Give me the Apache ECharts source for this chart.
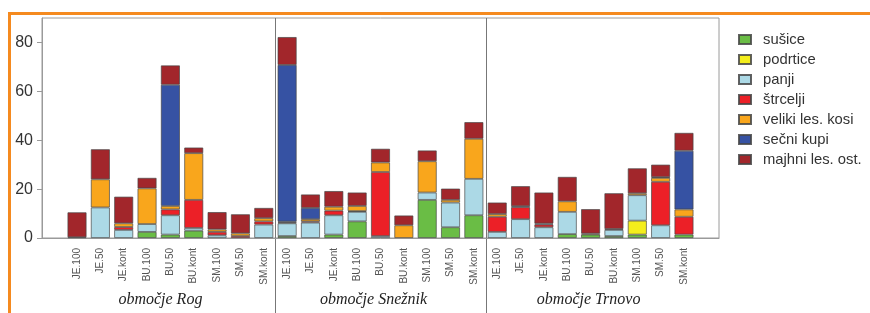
<!DOCTYPE html>
<html>
<head>
<meta charset="utf-8">
<script src="https://cdn.jsdelivr.net/npm/echarts@6/dist/echarts.min.js"></script>
<style>
html,body{margin:0;padding:0;background:#fff;}
#wrap{position:relative;width:870px;height:313px;overflow:hidden;}
#deco{position:absolute;left:8px;top:12px;width:900px;height:400px;border-top:3px solid #f58a1f;border-left:3px solid #f58a1f;}
#chart{position:absolute;left:0;top:0;width:870px;height:313px;}
</style>
</head>
<body>
<div id="wrap"><div id="deco"></div><div id="chart"></div></div>
<script>
// categories per area
const groupCats = ['JE.100','JE.50','JE.kont','BU.100','BU.50','BU.kont','SM.100','SM.50','SM.kont'];
const areas = ['območje Rog','območje Snežnik','območje Trnovo'];
const seriesNames = ['sušice','podrtice','panji','štrcelji','veliki les. kosi','sečni kupi','majhni les. ost.'];
const colors = ['#6abd45','#f4ee1c','#acd9e6','#ec2027','#f9a61c','#3652a3','#a2262b'];
const yTicks = [0,20,40,60,80];

// values: Rog (9), Snežnik (9), Trnovo (9)
const susice   = [0,0,0,2.5,1.4,3.0,0,0,0,   0.8,0,1.4,6.8,0,0,15.6,4.4,9.3,   0,0,0,1.6,1.4,0.8,1.4,0,1.4];
const podrtice = [0,0,0,0,0,0,0,0,0,         0,0,0,0,0,0,0,0,0,                0,0,0,0,0,0,5.7,0,0];
const panji    = [0,12.5,3.3,3.2,7.9,1.1,1.1,0,5.5,   5.2,6.3,7.9,3.9,0.8,0,3.0,10.1,14.9,   2.5,7.7,4.4,9.1,0,2.5,10.4,5.2,0];
const strcelji = [0.3,0,1.2,0,2.4,11.5,1.4,0.8,1.3,   0.4,0.5,1.9,0.3,26.2,0,0,0,0,   6.2,4.9,1.1,0,0,0.4,0,17.8,7.3];
const veliki   = [0,11.5,1.5,14.6,1.4,19.1,1.0,1.1,1.3,   0.3,0.9,1.6,2.1,3.9,5.2,12.8,1.1,16.4,   1.1,0,0,4.3,0.4,0,0.8,1.6,3.0];
const secni    = [0,0,0,0,49.6,0,0,0,0,   64.1,4.6,0,0,0,0,0,0,0,   0,0.4,0.4,0,0,0,0,0.3,24.0];
const majhni   = [10.2,12.3,10.9,4.3,7.9,2.3,7.1,7.8,4.2,   11.4,5.5,6.4,5.5,5.6,4.0,4.4,4.6,6.8,   4.7,8.2,12.7,10.0,10.0,14.6,10.2,5.1,7.3];

const allValues = [susice,podrtice,panji,strcelji,veliki,secni,majhni];

// category axis: one empty slot at each end
const cats = [''].concat(groupCats, groupCats, groupCats, ['']);
const pad = v => [null].concat(v.map(x => x === 0 ? null : x), [null]);

const chart = echarts.init(document.getElementById('chart'), null, {renderer:'canvas'});
const FONT = 'Liberation Sans, Arial, sans-serif';

const series = seriesNames.map((n,i) => ({
  name: n, type: 'bar', stack: 'all', data: pad(allValues[i]),
  barWidth: 19,
  itemStyle: {color: colors[i], borderColor: 'rgba(70,70,70,0.85)', borderWidth: 0.8},
  emphasis: {disabled: true},
  animation: false
}));

chart.setOption({
  animation: false,
  textStyle: {fontFamily: FONT},
  grid: {left: 42, right: 151, top: 18, bottom: 75, show: true, borderColor: '#9a9a9a', borderWidth: 1, backgroundColor: 'transparent'},
  legend: {
    orient: 'vertical', left: 738, top: 32, padding: 0, icon: 'rect',
    itemWidth: 12, itemHeight: 9, itemGap: 5,
    textStyle: {fontSize: 14.8, color: '#333', fontFamily: FONT, padding: [0,0,0,7]},
    data: seriesNames
  },
  xAxis: {
    type: 'category', data: cats,
    axisLine: {show: true, lineStyle: {color: '#9a9a9a'}},
    axisTick: {show: false},
    axisLabel: {rotate: 90, interval: 0, fontSize: 10, color: '#555', margin: 10, fontFamily: FONT},
    splitLine: {show: false}
  },
  yAxis: {
    type: 'value', min: 0, max: 90, interval: 20,
    axisLine: {show: true, lineStyle: {color: '#9a9a9a'}},
    axisTick: {show: true, length: 5, lineStyle: {color: '#9a9a9a'}},
    axisLabel: {fontSize: 16, color: '#333', margin: 9, showMaxLabel: false, fontFamily: FONT,
      formatter: v => yTicks.indexOf(v) >= 0 ? String(v) : ''},
    splitLine: {show: false}
  },
  series: series
});

// dividers between areas and area titles, positioned via the axis scale
function px(i){ return chart.convertToPixel({xAxisIndex: 0}, i); }
const plotTop = chart.convertToPixel({yAxisIndex: 0}, 90);
const graphics = [];
[10, 19].forEach(i => {
  const x = Math.round((px(i-1) + px(i)) / 2) + 0.5;
  graphics.push({type: 'line', shape: {x1: x, y1: plotTop, x2: x, y2: 313}, style: {stroke: '#777', lineWidth: 1}, silent: true});
});
const titleCenters = [px(1) + (px(9)-px(1))*0.5 - 10, px(10) + (px(18)-px(10))*0.5 - 7, px(19) + (px(27)-px(19))*0.5 - 2];
areas.forEach((t, k) => {
  graphics.push({type: 'text', x: titleCenters[k], y: 300, silent: true,
    style: {text: t, fill: '#222', font: 'italic 16px "Liberation Serif", "Times New Roman", serif', textAlign: 'center', textVerticalAlign: 'middle'}});
});
chart.setOption({graphic: graphics});
</script>
</body>
</html>
